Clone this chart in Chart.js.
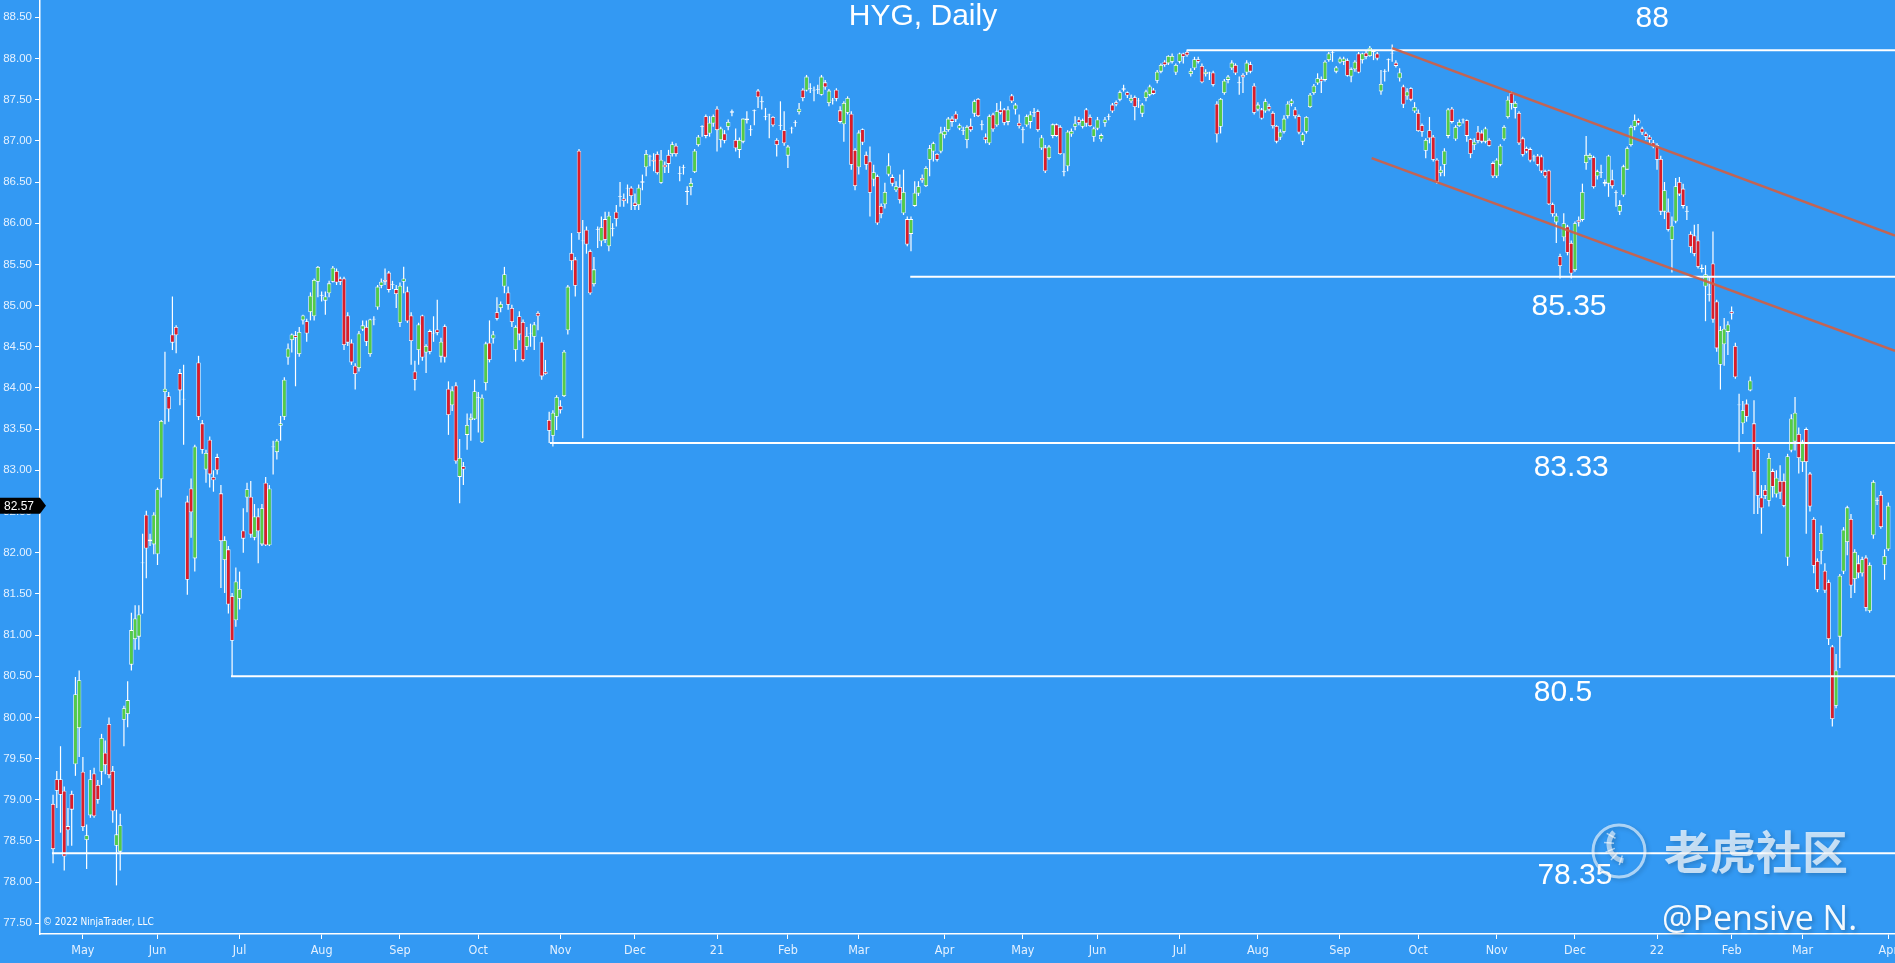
<!DOCTYPE html>
<html>
<head>
<meta charset="utf-8">
<title>HYG, Daily</title>
<script src="https://cdn.jsdelivr.net/npm/chart.js@4.4.1/dist/chart.umd.min.js"></script>
<style>
  html, body { margin: 0; padding: 0; background: #3399f3; overflow: hidden; }
  #wrap { width: 1895px; height: 963px; position: relative; }
</style>
</head>
<body>
<div id="wrap"><canvas id="chart"></canvas></div>
<script>
// first and last trading day shown, plus exchange holidays in between
const firstDay = '2020-04-21'
const lastDay = '2022-04-01'
const holidays = ['2020-05-25', '2020-07-03', '2020-09-07', '2020-11-26', '2020-12-25',
  '2021-01-01', '2021-01-18', '2021-02-15', '2021-04-02', '2021-05-31', '2021-07-05',
  '2021-09-06', '2021-11-25', '2021-12-24', '2022-01-17', '2022-02-21']
const monthNames = ['Jan', 'Feb', 'Mar', 'Apr', 'May', 'Jun', 'Jul', 'Aug', 'Sep', 'Oct', 'Nov', 'Dec']

// daily candles, one value per trading day
const opens = [
  78.95,79.25,79.25,79.11,78.68,79.07,79.43,79.87,79.34,78.51,
  78.81,79.32,79.18,79.34,79.57,79.92,79.35,78.44,78.37,79.97,
  80.04,80.64,80.95,80.98,81.87,82.46,82.16,82.10,81.98,82.89,
  83.95,83.90,84.65,84.74,84.18,83.86,82.62,82.78,81.93,84.31,
  83.57,83.01,83.37,82.92,83.16,82.72,81.91,82.04,81.47,81.18,
  81.44,82.27,82.67,82.68,82.18,82.44,82.10,82.85,82.09,83.28,
  83.22,83.54,83.65,84.37,84.58,84.64,84.41,84.82,84.81,84.92,
  84.87,85.29,85.12,85.06,85.15,85.29,85.42,85.33,85.33,84.88,
  84.55,84.27,84.24,84.71,84.74,84.41,84.83,84.98,85.24,85.31,
  85.40,85.25,85.20,84.79,85.29,85.17,84.88,84.20,84.46,84.88,
  84.43,84.69,84.66,84.71,84.38,84.75,83.99,83.79,84.03,82.92,
  83.05,83.43,83.61,83.62,83.88,83.34,84.06,84.55,84.60,84.92,
  84.97,85.23,85.16,84.97,84.46,84.87,84.80,84.50,84.66,84.62,
  84.91,84.56,84.20,83.61,83.42,83.65,83.78,83.90,84.70,85.64,
  85.56,86.88,85.78,85.92,85.66,85.26,85.92,85.78,86.05,85.72,
  85.93,86.14,86.32,86.30,86.42,86.43,86.25,86.22,86.49,86.68,
  86.81,86.77,86.84,86.49,86.71,86.83,86.84,86.94,86.60,86.67,
  86.38,86.44,86.62,86.95,87.17,87.30,87.09,87.21,87.39,87.01,
  87.09,87.17,87.34,87.01,86.89,86.99,87.27,87.13,87.36,87.61,
  87.47,87.29,87.31,87.29,87.01,87.18,87.13,86.82,87.15,87.22,
  87.35,87.62,87.61,87.63,87.61,87.62,87.56,87.71,87.46,87.49,
  87.62,87.37,87.20,87.34,87.33,86.89,86.68,87.14,86.83,86.75,
  86.53,86.57,86.21,86.23,86.59,86.56,86.40,86.44,86.12,86.05,
  85.87,86.21,86.36,86.55,86.45,86.77,86.87,86.84,86.87,87.07,
  87.13,87.27,87.33,87.15,87.12,87.01,87.18,87.33,87.51,87.19,
  87.05,86.97,87.32,87.19,87.38,87.38,87.23,87.55,87.38,87.22,
  87.13,87.19,87.23,87.34,87.36,86.91,86.92,86.79,87.06,87.20,
  87.17,86.62,86.69,87.08,87.17,87.26,87.17,87.38,87.29,87.05,
  87.15,87.02,87.22,87.29,87.44,87.47,87.50,87.64,87.59,87.48,
  87.53,87.48,87.33,87.52,87.56,87.62,87.73,87.84,87.96,87.94,
  87.96,87.83,87.96,88.06,88.08,87.81,87.88,87.99,87.91,87.81,
  87.82,87.83,87.45,87.17,87.58,87.74,87.88,87.92,87.70,87.80,
  87.83,87.93,87.67,87.38,87.38,87.36,87.42,87.34,87.18,87.04,
  87.11,87.30,87.45,87.38,87.30,86.99,87.11,87.41,87.58,87.70,
  87.75,87.74,87.98,88.07,87.84,87.95,87.96,87.98,87.78,87.87,
  88.06,87.98,88.07,88.03,88.08,88.06,87.60,87.84,87.98,88.06,
  87.95,87.76,87.66,87.54,87.64,87.36,87.34,87.19,86.88,87.13,
  87.05,86.77,86.61,86.71,87.06,87.39,87.02,87.18,87.26,87.25,
  87.02,86.95,87.11,87.10,86.99,87.01,86.73,86.57,86.71,87.02,
  87.29,87.58,87.40,87.34,87.03,86.91,86.90,86.81,86.82,86.81,
  86.63,86.64,86.23,86.01,85.60,85.83,85.96,85.76,85.43,86.04,
  86.04,86.73,86.79,86.80,86.57,86.61,86.50,86.48,86.53,86.37,
  86.14,86.34,86.65,86.95,87.17,87.25,87.15,87.09,87.05,86.98,
  86.95,86.78,86.14,86.14,85.80,86.02,86.50,86.42,86.14,85.87,
  85.85,85.79,85.44,85.23,85.13,85.51,85.05,84.28,84.53,84.68,
  84.93,84.51,83.79,83.57,83.81,83.97,83.57,83.26,82.67,82.76,
  82.63,82.99,82.71,82.87,82.87,81.94,83.24,83.35,83.44,83.10,
  83.50,82.96,82.41,81.90,82.02,81.78,81.64,80.86,80.14,80.98,
  81.77,82.13,82.41,81.68,81.87,81.75,81.94,81.29,82.21,82.63,
  82.70,81.85,82.04]

const highs = [
  79.06,79.35,79.65,79.16,78.90,79.11,80.49,80.57,79.52,78.70,
  79.36,79.39,79.24,79.80,79.72,80.00,79.41,78.88,78.83,80.14,
  80.44,81.27,81.36,81.36,82.23,82.51,82.23,82.49,82.79,83.61,
  84.44,83.95,85.11,84.76,84.23,84.28,82.69,82.90,83.31,84.39,
  83.61,83.25,83.41,83.00,83.20,82.82,82.20,82.08,81.51,81.82,
  81.77,82.54,82.85,82.87,82.59,82.54,82.59,82.92,82.82,83.36,
  83.38,83.66,84.13,84.54,84.66,84.69,84.74,84.89,84.84,85.16,
  85.33,85.48,85.17,85.17,85.30,85.48,85.45,85.35,85.35,84.92,
  84.59,84.30,84.69,84.82,84.82,84.84,84.87,85.25,85.33,85.45,
  85.42,85.30,85.25,85.28,85.47,85.23,84.92,84.33,84.79,84.89,
  84.53,84.71,84.87,85.07,84.61,84.77,84.08,84.02,84.07,83.38,
  83.10,83.69,83.69,84.10,83.95,83.92,84.56,84.82,84.69,85.10,
  85.05,85.47,85.23,85.01,84.76,84.93,84.83,84.74,84.78,84.80,
  84.93,84.62,84.34,83.71,83.73,83.91,83.85,84.46,85.25,85.88,
  85.59,86.90,86.04,85.96,85.68,85.59,85.96,86.08,86.14,86.14,
  86.00,86.22,86.50,86.36,86.47,86.45,86.36,86.47,86.59,86.89,
  86.83,86.85,86.87,86.89,86.75,86.89,86.99,86.97,86.69,86.71,
  86.45,86.55,86.90,87.07,87.19,87.32,87.30,87.32,87.42,87.17,
  87.13,87.26,87.38,87.15,87.04,87.27,87.36,87.19,87.38,87.63,
  87.54,87.40,87.33,87.30,87.03,87.48,87.36,86.95,87.17,87.25,
  87.46,87.64,87.80,87.70,87.66,87.68,87.80,87.74,87.63,87.52,
  87.64,87.42,87.48,87.54,87.36,86.91,87.13,87.15,86.87,86.93,
  86.71,86.59,86.24,86.49,86.85,86.59,86.51,86.59,86.65,86.08,
  86.08,86.51,86.51,86.59,86.69,86.95,86.99,86.85,87.17,87.17,
  87.29,87.30,87.36,87.21,87.17,87.19,87.27,87.50,87.52,87.25,
  87.09,87.32,87.34,87.46,87.48,87.40,87.42,87.57,87.46,87.32,
  87.17,87.32,87.36,87.40,87.38,87.07,86.95,86.95,87.21,87.21,
  87.19,86.85,87.13,87.15,87.30,87.29,87.27,87.40,87.32,87.17,
  87.29,87.09,87.29,87.33,87.46,87.49,87.61,87.68,87.60,87.56,
  87.55,87.52,87.46,87.62,87.68,87.64,87.86,87.94,87.98,88.04,
  88.06,87.94,88.07,88.07,88.10,87.88,88.02,88.02,87.94,87.87,
  87.84,87.85,87.48,87.52,87.75,87.80,87.98,87.94,87.78,87.82,
  87.98,87.96,87.70,87.47,87.40,87.51,87.45,87.36,87.19,87.14,
  87.31,87.48,87.51,87.41,87.32,87.10,87.30,87.58,87.69,87.82,
  87.78,87.98,88.08,88.09,87.91,88.02,88.02,88.00,87.89,87.98,
  88.08,88.07,88.10,88.15,88.10,88.08,87.86,87.87,88.00,88.17,
  87.98,87.88,87.68,87.64,87.65,87.47,87.38,87.21,87.03,87.29,
  87.07,86.79,86.69,86.91,87.40,87.41,87.19,87.26,87.27,87.26,
  87.03,87.03,87.18,87.13,87.17,87.03,86.75,86.79,86.96,87.19,
  87.54,87.60,87.48,87.36,87.05,86.93,86.92,86.83,86.84,86.83,
  86.65,86.65,86.25,86.12,85.63,86.12,85.98,85.79,86.02,86.08,
  86.48,87.06,86.85,86.82,86.65,86.71,86.53,86.83,86.65,86.40,
  86.28,86.71,86.93,87.19,87.32,87.27,87.17,87.11,87.07,87.01,
  86.97,86.82,86.50,86.30,86.08,86.55,86.56,86.48,86.21,85.90,
  85.98,85.99,85.50,85.49,85.36,85.90,85.07,84.75,84.85,84.81,
  84.99,84.55,83.93,83.84,83.86,84.14,83.85,83.28,82.82,82.82,
  83.21,83.02,83.00,83.06,82.96,83.20,83.68,83.89,83.52,83.37,
  83.52,82.98,82.43,81.93,82.33,81.87,81.67,80.88,80.77,81.74,
  82.31,82.57,82.47,82.04,81.97,81.95,81.97,81.88,82.88,82.67,
  82.75,82.04,82.61]

const lows = [
  78.23,78.90,78.60,78.14,78.44,78.44,79.29,79.52,78.62,78.16,
  78.78,78.78,78.95,79.18,79.31,79.26,78.72,77.96,78.14,79.65,
  79.88,80.57,80.82,80.82,81.26,81.69,82.08,81.98,81.85,82.67,
  83.56,83.59,84.46,84.42,83.79,83.31,81.49,82.18,81.77,83.61,
  83.20,82.85,82.79,82.74,82.95,81.57,81.51,81.26,80.50,81.10,
  81.31,82.00,82.49,82.18,82.15,81.87,82.08,82.08,82.08,82.95,
  83.13,83.36,83.61,84.28,84.43,84.02,84.38,84.77,84.56,84.82,
  84.82,85.10,85.05,84.89,85.10,85.28,85.25,85.25,84.46,84.51,
  84.28,83.98,84.20,84.69,84.51,84.38,84.76,84.95,85.21,85.25,
  85.16,85.20,84.97,84.74,85.15,84.79,84.28,83.97,84.28,84.33,
  84.18,84.41,84.56,84.64,84.31,84.31,83.43,83.72,83.08,82.60,
  82.82,83.25,83.36,83.61,83.46,83.33,83.97,84.31,84.54,84.82,
  84.92,85.15,84.95,84.74,84.32,84.58,84.32,84.46,84.50,84.46,
  84.70,84.10,84.16,83.33,83.29,83.49,83.69,83.89,84.65,85.43,
  85.11,85.80,83.39,85.63,85.13,85.23,85.70,85.72,85.76,85.66,
  85.84,85.96,86.20,86.20,86.24,86.16,86.16,86.16,86.40,86.57,
  86.69,86.63,86.59,86.48,86.61,86.61,86.81,86.81,86.51,86.59,
  86.22,86.34,86.61,86.93,87.05,87.03,87.05,87.17,86.87,86.92,
  86.97,87.13,87.30,86.87,86.79,86.97,87.21,87.06,87.19,87.40,
  87.38,87.25,87.03,87.17,86.81,87.13,86.94,86.67,87.09,87.17,
  87.32,87.48,87.60,87.58,87.48,87.57,87.55,87.62,87.42,87.44,
  87.48,87.21,86.99,87.32,86.65,86.40,86.59,86.95,86.65,86.08,
  86.45,85.98,86.06,86.18,86.57,86.45,86.38,86.24,86.10,85.72,
  85.66,86.20,86.33,86.49,86.44,86.57,86.75,86.75,86.85,87.03,
  87.11,87.17,87.23,87.13,87.07,86.91,87.11,87.29,87.29,87.13,
  86.97,86.95,87.11,87.17,87.32,87.19,87.19,87.46,87.32,87.15,
  86.97,87.17,87.15,87.29,87.11,86.89,86.61,86.77,87.03,87.05,
  86.83,86.57,86.63,87.05,87.13,87.19,87.15,87.17,87.17,86.99,
  87.13,86.99,87.17,87.25,87.34,87.42,87.48,87.60,87.52,87.46,
  87.25,87.40,87.29,87.48,87.54,87.56,87.70,87.82,87.90,87.92,
  87.94,87.80,87.94,87.94,88.02,87.78,87.86,87.94,87.70,87.78,
  87.74,87.66,86.98,87.09,87.56,87.70,87.86,87.80,87.56,87.58,
  87.80,87.82,87.32,87.36,87.26,87.34,87.36,87.15,86.97,87.01,
  87.09,87.27,87.42,87.27,87.08,86.95,87.09,87.40,87.56,87.68,
  87.58,87.72,87.96,87.96,87.82,87.94,87.92,87.78,87.71,87.84,
  87.82,87.94,87.99,88.02,87.98,87.98,87.56,87.72,87.84,87.96,
  87.89,87.72,87.40,87.50,87.48,87.34,87.11,87.05,86.79,86.97,
  86.75,86.48,86.57,86.57,87.03,87.21,87.00,87.17,87.21,86.99,
  86.79,86.89,86.97,86.97,86.97,86.93,86.55,86.55,86.69,87.00,
  87.27,87.38,87.27,86.95,86.81,86.85,86.74,86.75,86.69,86.61,
  86.55,86.22,86.08,85.76,85.33,85.78,85.61,85.33,85.41,85.96,
  86.02,86.65,86.77,86.42,86.53,86.55,86.45,86.32,86.42,86.20,
  86.10,86.32,86.65,86.93,87.13,87.19,87.07,87.01,86.97,86.91,
  86.65,86.10,86.05,85.90,85.40,86.00,86.33,86.18,86.04,85.64,
  85.60,85.45,85.40,84.81,85.05,84.79,84.44,83.98,84.27,84.40,
  84.83,84.11,83.22,83.44,83.59,83.96,82.47,82.47,82.23,82.65,
  82.56,82.67,82.67,82.65,82.55,81.84,83.22,83.24,82.96,82.98,
  82.23,82.50,81.75,81.52,81.86,81.51,80.88,79.89,80.11,80.60,
  81.74,81.97,81.45,81.51,81.69,81.71,81.29,81.27,82.17,82.58,
  82.29,81.67,82.02]

const closes = [
  78.40,79.11,79.06,78.31,78.63,78.88,80.28,80.45,78.67,78.57,
  79.25,78.80,79.00,79.75,79.42,79.30,78.86,78.58,78.69,80.11,
  80.21,81.06,81.20,81.25,81.88,82.05,82.14,82.46,82.77,83.60,
  83.99,83.74,84.55,84.64,83.97,83.87,81.67,82.49,83.29,83.65,
  83.25,83.21,82.95,82.88,83.00,82.14,82.15,81.37,80.93,81.65,
  81.56,82.17,82.77,82.22,82.44,82.26,82.54,82.09,82.78,83.29,
  83.36,83.57,84.10,84.48,84.65,84.61,84.68,84.88,84.66,85.12,
  85.31,85.47,85.13,85.11,85.27,85.46,85.28,85.29,84.52,84.55,
  84.31,84.17,84.66,84.76,84.56,84.83,84.84,85.23,85.29,85.29,
  85.19,85.26,85.14,85.24,85.33,84.81,84.57,84.10,84.77,84.37,
  84.51,84.44,84.67,84.67,84.56,84.37,83.67,83.97,83.11,83.15,
  83.01,83.55,83.64,83.96,83.89,83.88,84.54,84.34,84.65,84.84,
  85.02,85.38,85.01,84.80,84.74,84.65,84.34,84.63,84.67,84.77,
  84.87,84.14,84.17,83.48,83.70,83.89,83.73,84.44,85.23,85.54,
  85.24,85.88,85.79,85.74,85.15,85.44,85.93,85.95,85.80,86.09,
  85.94,86.05,86.33,86.27,86.43,86.33,86.21,86.43,86.51,86.84,
  86.82,86.75,86.61,86.77,86.68,86.72,86.96,86.84,86.61,86.68,
  86.39,86.49,86.88,87.05,87.18,87.06,87.22,87.30,87.13,87.15,
  87.00,87.23,87.36,86.91,87.01,87.27,87.25,87.14,87.37,87.53,
  87.48,87.30,87.32,87.19,86.95,87.19,86.97,86.93,87.16,87.23,
  87.39,87.52,87.78,87.64,87.62,87.63,87.78,87.65,87.61,87.50,
  87.51,87.23,87.46,87.52,86.71,86.45,87.10,86.98,86.71,86.37,
  86.62,86.00,86.11,86.38,86.70,86.48,86.45,86.28,86.38,85.74,
  86.05,86.37,86.45,86.52,86.67,86.91,86.97,86.77,87.10,87.12,
  87.27,87.23,87.26,87.19,87.13,87.17,87.13,87.48,87.30,87.20,
  87.01,87.30,87.14,87.36,87.34,87.22,87.38,87.48,87.44,87.18,
  87.14,87.30,87.32,87.35,87.13,87.04,86.63,86.93,87.20,87.06,
  86.84,86.63,87.11,87.12,87.21,87.22,87.25,87.21,87.18,87.15,
  87.26,87.07,87.26,87.30,87.36,87.44,87.59,87.62,87.55,87.52,
  87.41,87.49,87.44,87.60,87.66,87.57,87.84,87.92,87.92,88.03,
  88.03,87.92,88.06,88.02,88.04,87.85,87.99,87.96,87.71,87.84,
  87.83,87.68,87.08,87.51,87.73,87.78,87.95,87.82,87.71,87.77,
  87.95,87.84,87.34,87.44,87.27,87.48,87.38,87.18,86.99,87.11,
  87.27,87.45,87.49,87.30,87.10,87.08,87.29,87.56,87.67,87.76,
  87.72,87.96,88.06,88.08,87.89,88.00,88.00,87.79,87.87,87.96,
  87.83,88.06,88.02,88.13,88.09,88.00,87.69,87.85,87.99,88.07,
  87.91,87.83,87.44,87.60,87.50,87.41,87.12,87.11,87.01,87.03,
  86.77,86.50,86.65,86.88,87.38,87.23,87.17,87.23,87.25,87.06,
  86.84,86.99,87.00,86.99,87.15,86.94,86.57,86.77,86.94,87.17,
  87.50,87.45,87.46,86.97,86.83,86.87,86.76,86.80,86.71,86.63,
  86.57,86.23,86.11,86.09,85.48,86.00,85.64,85.39,86.00,86.01,
  86.38,86.83,86.83,86.44,86.63,86.62,86.48,86.82,86.45,86.38,
  86.22,86.69,86.91,87.17,87.25,87.21,87.10,87.05,87.01,86.93,
  86.77,86.14,86.40,85.92,85.97,86.45,86.35,86.21,86.15,85.71,
  85.63,85.47,85.46,85.38,85.14,84.83,84.48,84.70,84.72,84.77,
  84.90,84.13,83.80,83.73,83.65,84.09,82.98,82.69,82.54,82.69,
  83.15,82.80,82.91,82.73,82.57,83.17,83.63,83.70,83.15,83.35,
  83.10,82.56,81.84,81.55,82.24,81.54,80.95,79.98,80.57,81.72,
  82.28,82.55,81.60,82.01,81.75,81.92,81.33,81.85,82.86,82.64,
  82.31,81.96,82.57]

// y axis tick labels
const priceTicks = [77.5, 78, 78.5, 79, 79.5, 80, 80.5, 81, 81.5, 82, 82.5, 83,
  83.5, 84, 84.5, 85, 85.5, 86, 86.5, 87, 87.5, 88, 88.5]

// horizontal support/resistance lines: price, first bar, label text, label spot
const levelPrices = [78.35, 80.5, 83.33, 85.35, 88.10]
const levelStartBars = [-0.3, 47.7, 133.2, 229.8, 303.9]
const levelTexts = ['78.35', '80.5', '83.33', '85.35', '88']
const levelTextBars = [408, 404.8, 407, 406.4, 428.7]
const levelTextPrices = [78.08, 80.30, 83.03, 84.98, 88.48]

// falling channel (two red lines): start bar/price, end bar/price
const channelStartBars = [359, 353.5]
const channelStartPrices = [88.126, 86.79]
const channelEndBars = [493.8, 493.8]
const channelEndPrices = [85.85, 84.45]

// look
const bgColor = '#3399f3'
const upColor = '#55cc45'
const downColor = '#dc1c28'
const axisText = '#e4f1ff'
const channelColor = 'rgba(206, 96, 70, 0.92)'

// build the trading-day calendar
let tradingDays = []
let day = new Date(firstDay + 'T12:00:00Z')
let endDay = new Date(lastDay + 'T12:00:00Z')
while (day <= endDay) {
    let wd = day.getUTCDay()
    let iso = day.toISOString().slice(0, 10)
    if (wd !== 0 && wd !== 6 && holidays.indexOf(iso) < 0) tradingDays.push(iso)
    day.setUTCDate(day.getUTCDate() + 1)
}

// first trading day of each month gets a tick; January shows the year
let monthTicks = []
let monthLabels = []
for (let i = 1; i < tradingDays.length; i++) {
    if (tradingDays[i].slice(5, 7) !== tradingDays[i - 1].slice(5, 7)) {
        let m = +tradingDays[i].slice(5, 7)
        monthTicks.push(i)
        monthLabels.push(m === 1 ? tradingDays[i].slice(2, 4) : monthNames[m - 1])
    }
}

let bars = opens.map((v, i) => i)
let bodyColors = opens.map((o, i) => closes[i] >= o ? upColor : downColor)

// extra drawing: levels, channel, texts, watermark, last price marker
let overlay = {
    id: 'overlay',
    beforeDraw(chart) {
        let c = chart.ctx
        c.save()
        c.fillStyle = bgColor
        c.fillRect(0, 0, chart.width, chart.height)
        c.restore()
    },
    afterDatasetsDraw(chart) {
        let c = chart.ctx
        let a = chart.chartArea
        let x = chart.scales.x
        let y = chart.scales.y

        c.save()
        c.beginPath()
        c.rect(a.left, a.top, a.right - a.left, a.bottom - a.top)
        c.clip()

        // white horizontal levels
        c.strokeStyle = '#ffffff'
        c.lineWidth = 2
        levelPrices.forEach((p, k) => {
            let py = y.getPixelForValue(p)
            c.beginPath()
            c.moveTo(x.getPixelForValue(levelStartBars[k]), py)
            c.lineTo(a.right, py)
            c.stroke()
        })

        // red channel lines
        c.strokeStyle = channelColor
        c.lineWidth = 2.5
        channelStartBars.forEach((b, k) => {
            c.beginPath()
            c.moveTo(x.getPixelForValue(b), y.getPixelForValue(channelStartPrices[k]))
            c.lineTo(x.getPixelForValue(channelEndBars[k]), y.getPixelForValue(channelEndPrices[k]))
            c.stroke()
        })
        c.restore()

        c.save()
        c.fillStyle = '#ffffff'
        c.textAlign = 'center'
        c.textBaseline = 'middle'
        c.font = '30px "Liberation Sans", Arial, sans-serif'
        levelTexts.forEach((t, k) => {
            c.fillText(t, x.getPixelForValue(levelTextBars[k]), y.getPixelForValue(levelTextPrices[k]))
        })
        // chart title
        c.fillText('HYG, Daily', 923, 17)

        // copyright line
        c.textAlign = 'left'
        c.font = '10px "Liberation Sans Narrow", "DejaVu Sans Condensed", sans-serif'
        c.fillText('\u00a9 2022 NinjaTrader, LLC', 43, 922)

        // watermark logo
        c.shadowColor = 'rgba(0, 0, 0, 0.25)'
        c.shadowBlur = 4
        c.shadowOffsetX = 2
        c.shadowOffsetY = 2
        c.strokeStyle = 'rgba(255, 255, 255, 0.6)'
        c.lineWidth = 3
        c.beginPath()
        c.arc(1619, 851, 26, 0, Math.PI * 2)
        c.stroke()
        c.lineWidth = 5
        c.beginPath()
        c.arc(1626, 844, 17, 0.55 * Math.PI, 1.25 * Math.PI)
        c.stroke()
        c.lineWidth = 1.5
        for (let t = 0; t < 5; t++) {
            let ang = (0.6 + t * 0.14) * Math.PI
            c.beginPath()
            c.moveTo(1626 + Math.cos(ang) * 12, 844 + Math.sin(ang) * 12)
            c.lineTo(1626 + Math.cos(ang) * 22, 844 + Math.sin(ang) * 22)
            c.stroke()
        }

        // watermark texts
        c.fillStyle = 'rgba(255, 255, 255, 0.72)'
        c.font = 'bold 46px "Noto Sans CJK SC", sans-serif'
        c.fillText('老虎社区', 1664, 852)
        c.fillStyle = 'rgba(255, 255, 255, 0.95)'
        c.font = '34px "Open Sans", "Noto Sans", sans-serif'
        c.fillText('@Pensive N.', 1662, 920)
        c.restore()
    },
    afterDraw(chart) {
        // black price tag for the last close on the y axis
        let c = chart.ctx
        let py = chart.scales.y.getPixelForValue(closes[closes.length - 1])
        c.save()
        c.fillStyle = '#000000'
        c.beginPath()
        c.moveTo(0, py - 8)
        c.lineTo(40, py - 8)
        c.lineTo(46, py)
        c.lineTo(40, py + 8)
        c.lineTo(0, py + 8)
        c.closePath()
        c.fill()
        c.fillStyle = '#ffffff'
        c.font = '12px "Liberation Sans", Arial, sans-serif'
        c.textBaseline = 'middle'
        c.fillText(closes[closes.length - 1].toFixed(2), 4, py + 0.5)
        c.restore()
    }
}

let elCanvas = document.getElementById('chart')
let ctx = elCanvas.getContext('2d')

new Chart(ctx, {
    type: 'bar',
    data: {
        datasets: [
            {
                // candle bodies, open to close
                label: 'body',
                data: bars.map(i => ({ x: i, y: [opens[i], closes[i]] })),
                backgroundColor: bodyColors,
                borderColor: '#ffffff',
                borderWidth: 0.8,
                borderSkipped: false,
                inflateAmount: 0,
                barThickness: 4.4,
                grouped: false
            },
            {
                // wicks, low to high
                label: 'wick',
                data: bars.map(i => ({ x: i, y: [lows[i], highs[i]] })),
                backgroundColor: '#ffffff',
                borderWidth: 0,
                inflateAmount: 0,
                barThickness: 1.2,
                grouped: false
            }
        ]
    },
    options: {
        responsive: true,
        maintainAspectRatio: false,
        animation: false,
        events: [],
        layout: { padding: 0 },
        plugins: {
            legend: { display: false },
            tooltip: { enabled: false }
        },
        scales: {
            x: {
                type: 'linear',
                min: -3.5,
                max: 493.8,
                offset: false,
                afterBuildTicks: s => { s.ticks = monthTicks.map(v => ({ value: v })) },
                afterFit: s => { s.height = 29; s.paddingLeft = 0; s.paddingRight = 0 },
                ticks: {
                    autoSkip: false,
                    maxRotation: 0,
                    padding: 4,
                    color: axisText,
                    font: { family: '"Liberation Sans Narrow", "DejaVu Sans Condensed", sans-serif', size: 12.5 },
                    callback: (v, i) => monthLabels[i]
                },
                grid: { drawOnChartArea: false, offset: false, tickLength: 5, color: '#ffffff' },
                border: { color: '#ffffff', width: 1.5 }
            },
            y: {
                type: 'linear',
                min: 77.37,
                max: 88.71,
                beginAtZero: false,
                afterBuildTicks: s => { s.ticks = priceTicks.map(v => ({ value: v })) },
                afterFit: s => { s.width = 40; s.paddingTop = 0; s.paddingBottom = 0 },
                ticks: {
                    padding: 3,
                    color: axisText,
                    font: { family: '"Liberation Sans", Arial, sans-serif', size: 11.5 },
                    callback: v => v.toFixed(2)
                },
                grid: { drawOnChartArea: false, tickLength: 5, color: '#ffffff' },
                border: { color: '#ffffff', width: 1.5 }
            }
        }
    },
    plugins: [overlay]
})
</script>
</body>
</html>
